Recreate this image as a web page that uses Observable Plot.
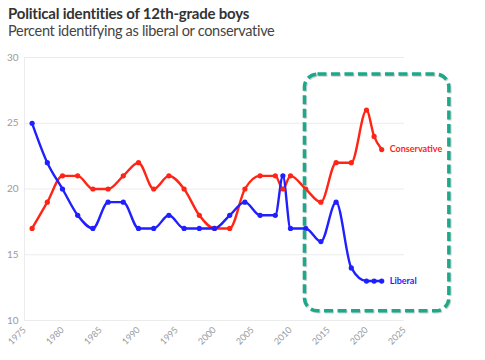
<!DOCTYPE html>
<html>
<head>
<meta charset="utf-8">
<script src="https://cdn.jsdelivr.net/npm/d3@7"></script>
<script src="https://cdn.jsdelivr.net/npm/@observablehq/plot@0.6"></script>
<style>
  html, body { margin: 0; padding: 0; background: #fff; }
  #wrap { width: 485px; height: 360px; overflow: hidden; font-family: Lato, "Open Sans", sans-serif; }
  .title { padding: 5px 0 0 8px; font-size: 15px; line-height: 17px; font-weight: 700; color: #333; letter-spacing: -0.2px; }
  .subtitle { padding-left: 8px; font-size: 14.5px; line-height: 17px; color: #444; letter-spacing: -0.3px; }
  svg { display: block; }
</style>
</head>
<body>
<div id="wrap">
  <div class="title">Political identities of 12th-grade boys</div>
  <div class="subtitle">Percent identifying as liberal or conservative</div>
  <div id="chart"></div>
</div>
<script>
const years = [1976,1978,1980,1982,1984,1986,1988,1990,1992,1994,1996,1998,2000,2002,2004,2006,2008,2009,2010,2012,2014,2016,2018,2020,2021,2022];
const conservative = [17,19,21,21,20,20,21,22,20,21,20,18,17,17,20,21,21,20,21,20,19,22,22,26,24,23];
const liberal = [25,22,20,18,17,19,19,17,17,18,17,17,17,18,19,18,18,21,17,17,16,19,14,13,13,13];
const seriesNames = ["Conservative", "Liberal"];
const seriesColors = ["#ff2516", "#1f1fff"];
const xTicks = [1975,1980,1985,1990,1995,2000,2005,2010,2015,2020,2025];
const yTicks = [10,15,20,25,30];
const highlight = [{x1: 2011.9, x2: 2030.9, y1: 10.7, y2: 28.7}];

const data = [];
years.forEach((yr, i) => {
  data.push({year: yr, value: conservative[i], series: seriesNames[0]});
  data.push({year: yr, value: liberal[i], series: seriesNames[1]});
});
const last = seriesNames.map((s, k) => ({
  year: years[years.length - 1],
  value: (k === 0 ? conservative : liberal)[years.length - 1],
  series: s
}));

const chart = Plot.plot({
  width: 485,
  height: 321,
  marginLeft: 24,
  marginRight: 81,
  marginTop: 18,
  marginBottom: 40,
  style: {fontFamily: "Lato, 'Open Sans', sans-serif", background: "#fff"},
  x: {domain: [1975, 2025], ticks: xTicks, tickFormat: "d", tickRotate: -45, tickSize: 0, label: null},
  y: {domain: [10, 30], ticks: yTicks, tickSize: 0, tickPadding: 6, label: null},
  color: {domain: seriesNames, range: seriesColors},
  marks: [
    Plot.gridY(yTicks, {stroke: "#ececec", strokeOpacity: 1}),
    Plot.ruleX([1975], {stroke: "#ececec"}),
    Plot.ruleY([10], {stroke: "#ececec"}),
    Plot.axisX({ticks: xTicks, tickFormat: "d", tickRotate: -45, tickSize: 0, tickPadding: 8, fill: "#9a9a9a", fontSize: 9, label: null}),
    Plot.axisY({ticks: yTicks, tickSize: 0, tickPadding: 6, fill: "#9a9a9a", fontSize: 10, label: null}),
    Plot.line(data, {x: "year", y: "value", z: "series", stroke: "series", strokeWidth: 2.4, curve: "monotone-x"}),
    Plot.dot(data, {x: "year", y: "value", fill: "series", r: 2.6}),
    Plot.text(last, {x: "year", y: "value", text: "series", fill: "series", dx: 8, textAnchor: "start", fontWeight: "bold", fontSize: 9}),
    Plot.rect(highlight, {x1: "x1", x2: "x2", y1: "y1", y2: "y2", dx: 1, dy: 1, fill: "none", stroke: "#777", strokeOpacity: 0.35, strokeWidth: 3.5, strokeDasharray: "9,4.5", rx: 13}),
    Plot.rect(highlight, {x1: "x1", x2: "x2", y1: "y1", y2: "y2", fill: "none", stroke: "#1ea88b", strokeWidth: 3.5, strokeDasharray: "9,4.5", rx: 13})
  ]
});
document.getElementById("chart").appendChild(chart);
</script>
</body>
</html>
